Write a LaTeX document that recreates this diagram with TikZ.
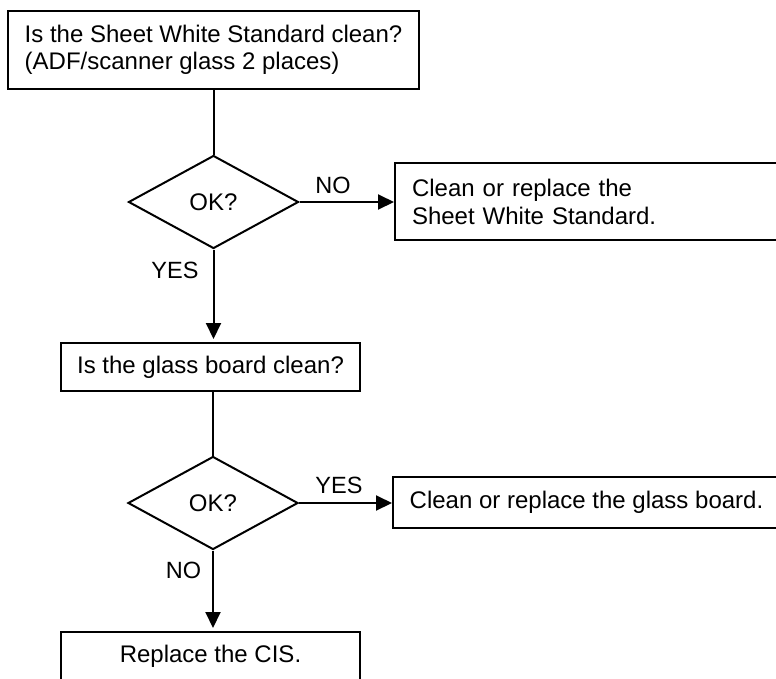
\documentclass[tikz,border=0pt]{standalone}
\usepackage{fontspec}
\setmainfont{Liberation Sans}
\usetikzlibrary{shapes.geometric,arrows.meta}
\begin{document}
\begin{tikzpicture}[x=1pt,y=-1pt,
  every node/.style={font=\fontsize{24}{27}\selectfont},
  box/.style={draw, line width=2pt, inner sep=0pt, align=left},
  dec/.style={draw, diamond, line width=2pt, minimum width=170pt, minimum height=93pt, inner sep=0pt},
  conn/.style={line width=2pt},
  arr/.style={conn, -{Triangle[length=16pt,width=15pt]}},
  lbl/.style={inner sep=0pt, font=\fontsize{23.5}{27}\selectfont}]
\clip (0,0) rectangle (776,678);
\fill[white] (0,0) rectangle (776,678);
% boxes
\node[box, minimum width=411pt, minimum height=78pt] (q1) at (213.5,50)
  {Is the Sheet White Standard clean?\\(ADF/scanner glass 2 places)};
\node[dec] (d1) at (213.5,202) {OK?};
\node[box, minimum width=385pt, minimum height=77pt, text width=351pt, inner xsep=17pt,
  font=\fontsize{24}{28}\selectfont] (a1) at (587.5,201.5)
  {Clean or replace the\\Sheet White Standard.};
\node[box, minimum width=299pt, minimum height=48pt] (q2) at (210.5,367)
  {Is the glass board clean?};
\node[dec] (d2) at (213,503) {OK?};
\node[box, minimum width=387pt, minimum height=51pt] (a2) at (586.5,502.5)
  {Clean or replace the glass board.};
\node[box, minimum width=299pt, minimum height=48pt] (a3) at (210.5,656)
  {Replace the CIS.};
% connectors
\draw[conn] (q1.south -| d1.north) -- (d1.north);
\draw[arr] (d1.east) -- (d1.east -| a1.west);
\draw[arr, shorten >=3pt] (d1.south) -- (d1.south |- q2.north);
\draw[conn] (q2.south -| d2.north) -- (d2.north);
\draw[arr] (d2.east) -- (d2.east -| a2.west);
\draw[arr, shorten >=3pt] (d2.south) -- (d2.south |- a3.north);
% labels
\node[lbl] (no1) at (333,185) {NO};
\node[lbl] (yes1) at (175,270) {YES};
\node[lbl] (yes2) at (339,485) {YES};
\node[lbl] (no2) at (183.5,570.5) {NO};
\end{tikzpicture}
\end{document}
